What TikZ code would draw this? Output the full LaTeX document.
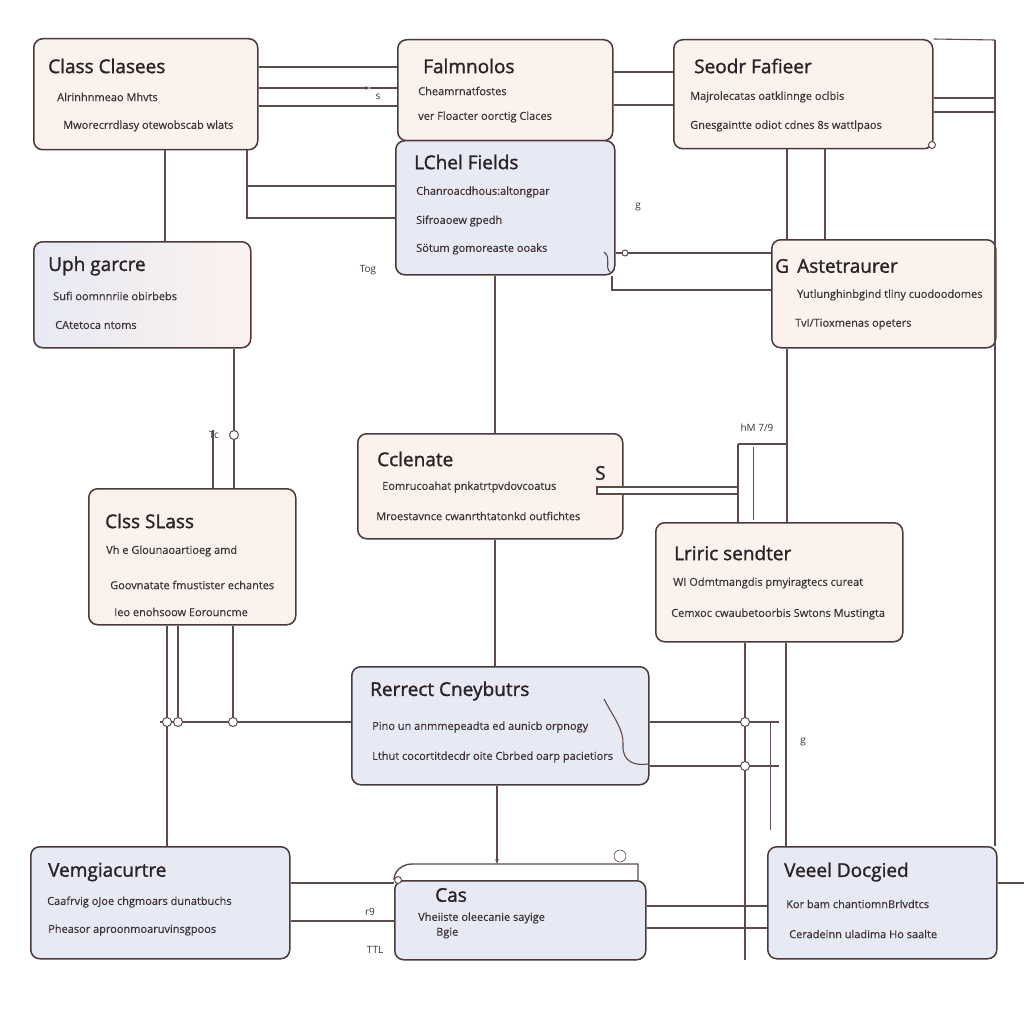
\documentclass[tikz,border=0pt]{standalone}
\usepackage{fontspec}
\setmainfont{Open Sans}
\newfontfamily\boxtitlefam[FakeBold=1.4]{Open Sans}
\newfontfamily\attrfam[FakeBold=0.4]{Open Sans}
\usepackage{xcolor}
\usetikzlibrary{arrows.meta, positioning}
\definecolor{boxline}{HTML}{4A3A3C}
\definecolor{boxpink}{HTML}{FBF2EE}
\definecolor{boxblue}{HTML}{E7E9F4}
\definecolor{linkcol}{HTML}{5E4A4A}
\definecolor{titlecol}{HTML}{2A2226}
\definecolor{attrcol}{HTML}{3C3236}
\newcommand\boxtitlefont{\boxtitlefam\fontsize{19}{21}\selectfont}
\newcommand\attrfont{\attrfam\fontsize{11}{13}\selectfont}
\newcommand\notefont{\fontsize{10}{12}\selectfont}
\tikzset{
    classbox/.style={rectangle, rounded corners=9pt, draw=boxline, line width=1.5pt, anchor=north west, inner sep=0pt},
    pinkbox/.style={classbox, fill=boxpink},
    bluebox/.style={classbox, fill=boxblue},
    classtitle/.style={anchor=west, font=\boxtitlefont, text=titlecol, inner sep=0pt},
    attr/.style={anchor=west, font=\attrfont, text=attrcol, inner sep=0pt},
    link/.style={draw=linkcol, line width=1.1pt},
    thinlink/.style={draw=linkcol, line width=0.6pt},
    junction/.style={circle, draw=linkcol, fill=white, line width=1pt, minimum size=9pt, inner sep=0pt},
    note/.style={font=\notefont, text=attrcol, inner sep=0pt},
}

\begin{document}
\begin{tikzpicture}[x=1pt, y=-1pt]
    \useasboundingbox[fill=white] (0,0) rectangle (1024,1024);

    % boxes
    \node [pinkbox, minimum width=224pt, minimum height=111pt] (b1) at (33,38) {};
    \node [pinkbox, minimum width=215pt, minimum height=101pt] (b2) at (397,39) {};
    \node [pinkbox, minimum width=259pt, minimum height=109pt] (b3) at (673,39) {};
    \node [bluebox, minimum width=219pt, minimum height=134pt] (b4) at (395,140) {};
    \node [classbox, left color=boxblue, right color=boxpink, minimum width=217pt, minimum height=106pt] (b5) at (33,241) {};
    \node [pinkbox, minimum width=224pt, minimum height=108pt] (b6) at (771,239) {};
    \node [pinkbox, minimum width=265pt, minimum height=105pt] (b7) at (357,433) {};
    \node [pinkbox, minimum width=207pt, minimum height=136pt] (b8) at (88,488) {};
    \node [pinkbox, minimum width=247pt, minimum height=119pt] (b9) at (655,522) {};
    \node [bluebox, minimum width=297pt, minimum height=118pt] (b10) at (351,666) {};
    \node [bluebox, minimum width=259pt, minimum height=112pt] (b11) at (30,846) {};
    \node [bluebox, minimum width=251pt, minimum height=79pt] (b12) at (394,880) {};
    \node [bluebox, minimum width=229pt, minimum height=112pt] (b13) at (767,846) {};

    % texts
    \node [classtitle] (b1t) at (48,66) {Class Clasees};
    \node [attr] (b1a) at (57,97) {Alrinhnmeao Mhvts};
    \node [attr] (b1b) at (63,126) {Mworecrrdlasy otewobscab wlats};

    \node [classtitle] (b2t) at (423,66) {Falmnolos};
    \node [attr] (b2a) at (418,91) {Cheamrnatfostes};
    \node [attr] (b2b) at (418,117) {ver Floacter oorctig Claces};

    \node [classtitle] (b3t) at (694,66) {Seodr Fafieer};
    \node [attr] (b3a) at (690,97) {Majrolecatas oatklinnge oclbis};
    \node [attr] (b3b) at (690,126) {Gnesgaintte odiot cdnes 8s wattlpaos};

    \node [classtitle] (b4t) at (414,162) {LChel Fields};
    \node [attr] (b4a) at (416,192) {Chanroacdhous:altongpar};
    \node [attr] (b4b) at (416,221) {Sifroaoew gpedh};
    \node [attr] (b4c) at (416,249) {Sötum gomoreaste ooaks};

    \node [classtitle] (b5t) at (48,266) {Uph garcre};
    \node [attr] (b5a) at (53,296) {Sufi oomnnriie obirbebs};
    \node [attr] (b5b) at (55,325) {CAtetoca ntoms};

    \node [classtitle] (b6g) at (775,266) {G};
    \node [classtitle] (b6t) at (797,266) {Astetraurer};
    \node [attr] (b6a) at (797,295) {Yutlunghinbgind tliny cuodoodomes};
    \node [attr] (b6b) at (795,324) {TvI/Tioxmenas opeters};

    \node [classtitle] (b7t) at (377,459) {Cclenate};
    \node [attr] (b7a) at (382,487) {Eomrucoahat pnkatrtpvdovcoatus};
    \node [attr] (b7b) at (376,516) {Mroestavnce cwanrthtatonkd outfichtes};
    \node [classtitle] (b7s) at (595,473) {S};

    \node [classtitle] (b8t) at (105,521) {Clss SLass};
    \node [attr] (b8a) at (106,551) {Vh e Glounaoartioeg amd};
    \node [attr] (b8b) at (110,585) {Goovnatate fmustister echantes};
    \node [attr] (b8c) at (114,612) {Ieo enohsoow Eorouncme};

    \node [classtitle] (b9t) at (674,553) {Lriric sendter};
    \node [attr] (b9a) at (673,583) {WI Odmtmangdis pmyiragtecs cureat};
    \node [attr] (b9b) at (671,614) {Cemxoc cwaubetoorbis Swtons Mustingta};

    \node [classtitle] (b10t) at (370,691) {Rerrect Cneybutrs};
    \node [attr] (b10a) at (372,727) {Pino un anmmepeadta ed aunicb orpnogy};
    \node [attr] (b10b) at (372,757) {Lthut cocortitdecdr oite Cbrbed oarp pacietiors};

    \node [classtitle] (b11t) at (48,872) {Vemgiacurtre};
    \node [attr] (b11a) at (47,902) {Caafrvig oJoe chgmoars dunatbuchs};
    \node [attr] (b11b) at (48,930) {Pheasor aproonmoaruvinsgpoos};

    \node [classtitle] (b12t) at (435,895) {Cas};
    \node [attr] (b12a) at (418,918) {Vheiiste oleecanie sayige};
    \node [attr] (b12b) at (436,933) {Bgie};

    \node [classtitle] (b13t) at (784,872) {Veeel Docgied};
    \node [attr] (b13a) at (786,904) {Kor bam chantiomnBrlvdtcs};
    \node [attr] (b13b) at (789,934) {Ceradeinn uladima Ho saalte};

    % loose labels
    \node [note] (n1) at (378,97) {s};
    \node [note] (n2) at (368,270) {Tog};
    \node [note] (n3) at (214,435) {Tc};
    \node [note] (n4) at (757,428) {hM 7/9};
    \node [note] (n5) at (803,742) {g};
    \node [note] (n6) at (370,912) {r9};
    \node [note] (n7) at (375,950) {TTL};
    \node [note] (n8) at (638,207) {g};

    % rail and free ends
    \coordinate (rtop) at (995,40);
    \coordinate (rbot) at (995,846);
    \coordinate (j1) at (247,186);
    \coordinate (j2) at (213,430);
    \coordinate (j3) at (738,444);
    \coordinate (j4) at (787,444);
    \coordinate (j5) at (745,960);
    \coordinate (j6) at (779,722);
    \coordinate (j7) at (779,766);
    \coordinate (j8) at (1024,883);
    \coordinate (tab) at (497,864);

    \draw [link] (rtop) -- (rbot);

    \draw [link] (b1.east |- 0,67) -- (b2.west |- 0,67);
    \draw [link, -{Stealth[length=5pt]}] (b1.east |- 0,88) -- (370,88);
    \draw [link] (370,88) -- (b2.west |- 0,88);
    \draw [link] (b1.east |- 0,106) -- (b2.west |- 0,106);
    \draw [link] (b1.south -| 165,0) -- (b5.north -| 165,0);
    \draw [link] (b1.south -| 247,0) |- (b4.west |- 0,218);
    \draw [link] (j1) -- (b4.west |- j1);

    \draw [link] (b2.east |- 0,72) -- (b3.west |- 0,72);
    \draw [link] (b2.east |- 0,105) -- (b3.west |- 0,105);

    \draw [link] (b3.east |- 0,98) -- (rtop |- 0,98);
    \draw [link] (b3.east |- 0,112) -- (rtop |- 0,112);
    \draw [link] (b3.north east) -- (rtop);
    \draw [link] (b3.south -| 787,0) -- (b6.north -| 787,0);
    \draw [link] (b3.south -| 825,0) -- (b6.north -| 825,0);
    \node [junction, minimum size=7pt] (c0) at (932,145) {};

    \draw [link] (b4.east |- 0,253) -- (b6.west |- 0,253);
    \draw [link] (b4.south -| 612,0) |- (b6.west |- 0,290);
    \node [junction, minimum size=6pt] (c1) at (625,253) {};
    \draw [link] (b4.south -| 495,0) -- (b7.north -| 495,0);
    \draw [link] (b7.south -| 495,0) -- (b10.north -| 495,0);
    \draw [link, -{Stealth[length=5pt]}] (b10.south -| 497,0) -- (tab);

    \draw [link] (b5.south -| 234,0) -- (b8.north -| 234,0);
    \draw [link] (j2) -- (b8.north -| j2);
    \node [junction] (c2) at (234,435) {};

    \draw [link] (b8.south -| 167,0) -- (b11.north -| 167,0);
    \draw [link] (b8.south -| 178,0) -- (178,722);
    \draw [link] (b8.south -| 233,0) -- (233,722);
    \draw [link] (160,722) -- (b10.west |- 0,722);
    \node [junction] (c3) at (167,722) {};
    \node [junction] (c4) at (178,722) {};
    \node [junction] (c5) at (233,722) {};

    \draw [link, fill=white] (597,487) rectangle (738,494);
    \draw [link] (j3) -- (b9.north -| j3);
    \draw [link] (j3) -- (j4);
    \draw [thinlink] (753,447) -- (753,520);
    \draw [link] (b6.south -| 787,0) -- (b9.north -| 787,0);

    \draw [link] (b9.south -| 786,0) -- (b13.north -| 786,0);
    \draw [link] (b9.south -| 745,0) -- (j5);
    \draw [link] (b10.east |- j6) -- (j6);
    \draw [link] (b10.east |- j7) -- (j7);
    \draw [thinlink] (770,722) -- (770,830);
    \node [junction] (c6) at (745,722) {};
    \node [junction] (c7) at (745,766) {};

    \draw [link] (b11.east |- 0,883) -- (b12.west |- 0,883);
    \draw [link] (b11.east |- 0,921) -- (b12.west |- 0,921);
    \draw [link] (b12.east |- 0,906) -- (b13.west |- 0,906);
    \draw [link] (b12.east |- 0,928) -- (b13.west |- 0,928);
    \draw [link] (b13.east |- j8) -- (j8);

    % tab over b12 and squiggles
    \draw [link, line width=1.4pt] (b12.north west) to[out=90, in=180] (412,864) -- (638,864) -- (638,880);
    \node [junction, minimum size=7pt] (c8) at (398,880) {};
    \node [junction, minimum size=12pt, line width=0.6pt] (c9) at (620,856) {};
    \draw [link] (604,699) .. controls (614,718) and (624,730) .. (623,745) .. controls (622,762) and (635,766) .. (648,764);
    \draw [link] (604,252) .. controls (612,258) and (604,266) .. (610,272);
\end{tikzpicture}
\end{document}
